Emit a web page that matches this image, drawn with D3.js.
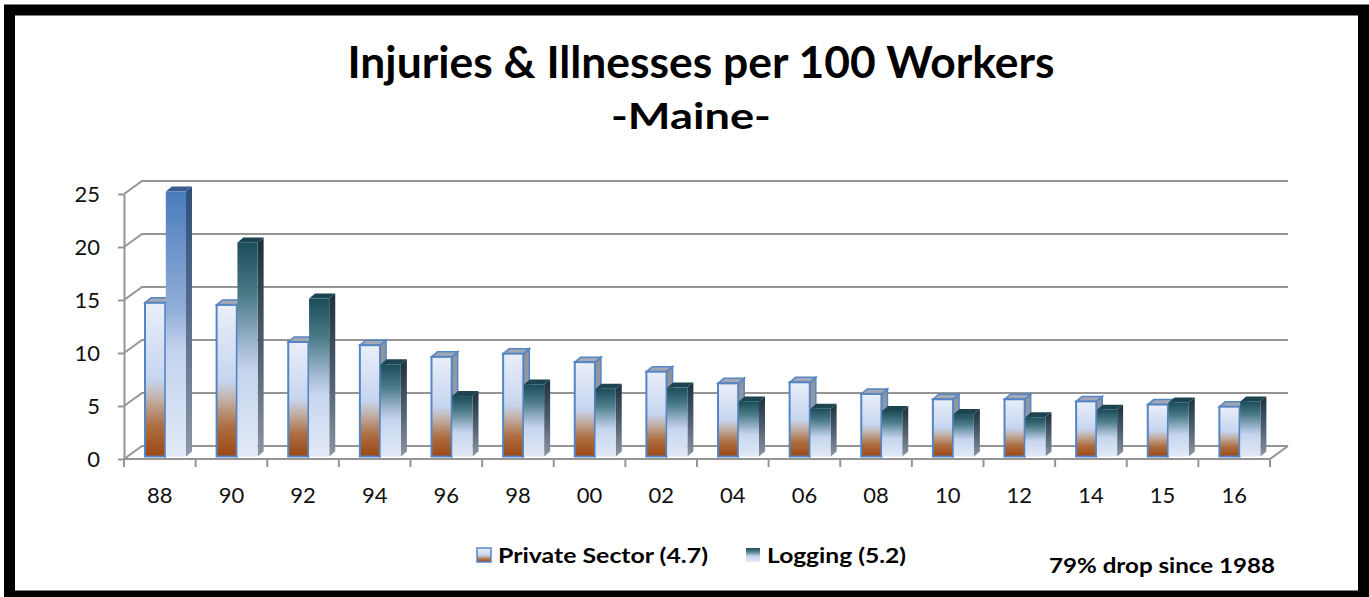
<!DOCTYPE html>
<html>
<head>
<meta charset="utf-8">
<script src="https://cdnjs.cloudflare.com/ajax/libs/d3/7.8.5/d3.min.js"></script>
<style>
  body { margin: 0; background: #fff; }
  svg { display: block; font-family: Lato, "Open Sans", sans-serif; }
</style>
</head>
<body>
<svg width="1369" height="597"></svg>
<script>
// data
var years = ["88","90","92","94","96","98","00","02","04","06","08","10","12","14","15","16"];
var privateSector = [14.5, 14.3, 10.8, 10.5, 9.4, 9.7, 8.9, 8.0, 6.9, 7.0, 5.9, 5.4, 5.4, 5.2, 4.9, 4.7];
var logging = [25.0, 20.2, 14.9, 8.7, 5.7, 6.8, 6.4, 6.5, 5.2, 4.5, 4.3, 4.0, 3.7, 4.4, 5.1, 5.2];
var seriesNames = ["Private Sector", "Logging"];
var legendLabels = ["Private Sector (4.7)", "Logging (5.2)"];
var yTicks = [0, 5, 10, 15, 20, 25];

function drawChart() {
	var svg = d3.select("svg");
	var front = {left: 124, right: 1270, base: 459};
	var depth = {dx: 18, dy: 13};      // back wall offset
	var bar3d = {dx: 6, dy: 5};        // bar depth
	var barBase = 456.5;               // bars stand a little behind the front edge

	// frame
	svg.append("rect")
		.attr("x", 9.5).attr("y", 10)
		.attr("width", 1354).attr("height", 586)
		.attr("fill", "#fff").attr("stroke", "#000").attr("stroke-width", 11);

	var defs = svg.append("defs");
	function grad(id, stops) {
		var g = defs.append("linearGradient").attr("id", id)
			.attr("x1", 0).attr("y1", 0).attr("x2", 0).attr("y2", 1);
		stops.forEach(s => g.append("stop").attr("offset", s[0]).attr("stop-color", s[1]));
	}
	grad("privFront", [[0, "#eaeff9"], [0.5, "#c6d5ef"], [0.62, "#c2b2aa"], [0.8, "#ad6f43"], [1, "#9c4712"]]);
	grad("privSide", [[0, "#8d929b"], [1, "#a3a9b3"]]);
	grad("logFront", [[0, "#1b4c59"], [0.25, "#4d7c89"], [0.5, "#a6bdd5"], [0.6, "#c6d5ee"], [1, "#e2e9f6"]]);
	grad("logSide", [[0, "#1c303b"], [0.5, "#4d5d6e"], [1, "#8b95a3"]]);
	grad("hiFront", [[0, "#4a7cbc"], [0.45, "#93afd9"], [0.6, "#c3d3ee"], [1, "#e2e9f6"]]);
	grad("hiSide", [[0, "#2f4f78"], [0.5, "#5a6f8c"], [1, "#8c97a6"]]);

	var x = d3.scaleBand().domain(years).range([front.left, front.right]).paddingInner(0);
	var xs = d3.scaleBand().domain(seriesNames).range([21, 62]).paddingInner(0.03);
	var yFront = d3.scaleLinear().domain([0, 25]).range([front.base, 194]);
	var yBar = d3.scaleLinear().domain([0, 25]).range([barBase, 191.5]);

	var grid = svg.append("g").attr("stroke", "#959595").attr("stroke-width", 2).attr("fill", "none");
	// back wall gridlines and left wall diagonals
	yTicks.forEach(function(t) {
		var yf = yFront(t), yb = yf - depth.dy;
		grid.append("path").attr("d", "M" + front.left + "," + yf + "L" + (front.left + depth.dx) + "," + yb
			+ "L" + (front.right + depth.dx) + "," + yb);
	});
	// floor
	grid.append("path").attr("d", "M" + front.left + "," + front.base + "L" + front.right + "," + front.base
		+ "L" + (front.right + depth.dx) + "," + (front.base - depth.dy));

	// y axis
	var yAxis = svg.append("g")
		.attr("transform", "translate(" + front.left + ",0)")
		.call(d3.axisLeft(yFront).tickValues(yTicks).tickSize(6).tickPadding(18).tickSizeOuter(0));
	yAxis.select(".domain").attr("stroke", "#959595").attr("stroke-width", 2);
	yAxis.selectAll(".tick line").attr("stroke", "#959595").attr("stroke-width", 2);
	yAxis.selectAll("text").attr("font-size", 22).attr("fill", "#111")
		.attr("font-family", "Lato, sans-serif");

	// x axis: ticks on band edges, labels in the middle
	var xTickPos = years.map(d => x(d)).concat([front.right]);
	svg.append("g").selectAll("line").data(xTickPos).enter().append("line")
		.attr("x1", d => d).attr("x2", d => d)
		.attr("y1", front.base).attr("y2", front.base + 8)
		.attr("stroke", "#959595").attr("stroke-width", 2);
	var xAxis = svg.append("g")
		.attr("transform", "translate(0," + (front.base + 28) + ")")
		.call(d3.axisBottom(x).tickSize(0).tickPadding(0));
	xAxis.select(".domain").remove();
	xAxis.selectAll("text").attr("font-size", 22).attr("fill", "#111")
		.attr("font-family", "Lato, sans-serif");

	// bars
	var rows = [];
	years.forEach(function(yr, i) {
		rows.push({year: yr, series: "Private Sector", value: privateSector[i], idx: i});
		rows.push({year: yr, series: "Logging", value: logging[i], idx: i});
	});
	var bars = svg.append("g").selectAll("g").data(rows).enter().append("g");
	bars.each(function(d) {
		var g = d3.select(this);
		var x0 = x(d.year) + xs(d.series), x1 = x0 + xs.bandwidth();
		var yt = yBar(d.value), yb = barBase;
		var isPriv = d.series === "Private Sector";
		var isHi = !isPriv && d.idx === 0;
		var frontFill = isPriv ? "url(#privFront)" : (isHi ? "url(#hiFront)" : "url(#logFront)");
		var sideFill = isPriv ? "url(#privSide)" : (isHi ? "url(#hiSide)" : "url(#logSide)");
		var topFill = isPriv ? "#a2a8b4" : (isHi ? "#3b5f8e" : "#1d4550");
		var edge = isPriv ? "#5585c4" : "none";
		g.append("path")
			.attr("d", "M" + x1 + "," + yt + "L" + (x1 + bar3d.dx) + "," + (yt - bar3d.dy)
				+ "L" + (x1 + bar3d.dx) + "," + (yb - bar3d.dy) + "L" + x1 + "," + yb + "Z")
			.attr("fill", sideFill).attr("stroke", edge).attr("stroke-width", isPriv ? 1.5 : 0);
		g.append("path")
			.attr("d", "M" + x0 + "," + yt + "L" + (x0 + bar3d.dx) + "," + (yt - bar3d.dy)
				+ "L" + (x1 + bar3d.dx) + "," + (yt - bar3d.dy) + "L" + x1 + "," + yt + "Z")
			.attr("fill", topFill).attr("stroke", edge).attr("stroke-width", isPriv ? 1.5 : 0);
		g.append("rect")
			.attr("x", x0).attr("y", yt)
			.attr("width", x1 - x0).attr("height", yb - yt)
			.attr("fill", frontFill).attr("stroke", edge).attr("stroke-width", isPriv ? 2 : 0);
	});

	// titles
	svg.append("text").attr("x", 701).attr("y", 78).attr("text-anchor", "middle")
		.attr("font-size", 43).attr("font-weight", "bold").attr("fill", "#000")
		.attr("textLength", 707).attr("lengthAdjust", "spacingAndGlyphs")
		.text("Injuries & Illnesses per 100 Workers");
	svg.append("text").attr("x", 691).attr("y", 129).attr("text-anchor", "middle")
		.attr("font-size", 36).attr("font-weight", "bold").attr("fill", "#000")
		.attr("textLength", 160).attr("lengthAdjust", "spacingAndGlyphs")
		.text("-Maine-");

	// legend
	var legX = [477, 746], legW = [210, 139];
	var leg = svg.append("g").selectAll("g").data(legendLabels).enter().append("g");
	leg.append("rect")
		.attr("x", (d, i) => legX[i]).attr("y", 548).attr("width", 14).attr("height", 14)
		.attr("fill", (d, i) => i === 0 ? "url(#privFront)" : "url(#logFront)")
		.attr("stroke", (d, i) => i === 0 ? "#5585c4" : "none").attr("stroke-width", 1.5);
	leg.append("text")
		.attr("x", (d, i) => legX[i] + 21).attr("y", 563)
		.attr("font-size", 21).attr("font-weight", "bold").attr("fill", "#000")
		.attr("textLength", (d, i) => legW[i]).attr("lengthAdjust", "spacingAndGlyphs")
		.text(d => d);

	svg.append("text").attr("x", 1049).attr("y", 573)
		.attr("font-size", 21).attr("font-weight", "bold").attr("fill", "#000")
		.attr("textLength", 226).attr("lengthAdjust", "spacingAndGlyphs")
		.text("79% drop since 1988");
}
drawChart();
</script>
</body>
</html>
